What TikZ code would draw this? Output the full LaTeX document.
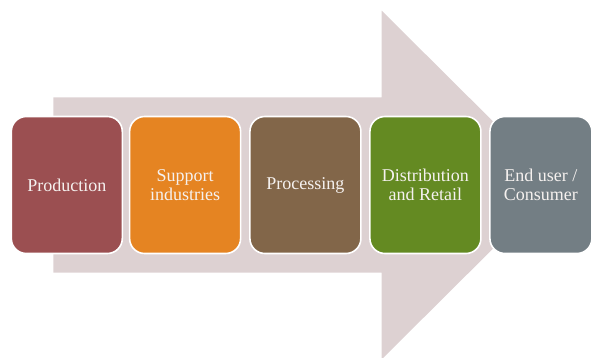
\documentclass[tikz,border=0pt]{standalone}
\usepackage{fontspec}
\setmainfont{Liberation Serif}
\newfontfamily\boxfont{Liberation Serif}
\definecolor{arrowc}{HTML}{DDD1D2}
\definecolor{cprod}{HTML}{9B4F51}
\definecolor{csupp}{HTML}{E58422}
\definecolor{cproc}{HTML}{826649}
\definecolor{cdist}{HTML}{648A22}
\definecolor{cend}{HTML}{737E84}
\definecolor{textc}{HTML}{F5F1EF}
\begin{document}
\begin{tikzpicture}[x=1pt,y=-1pt,
  stagebox/.style={draw=white, line width=1.6pt, rounded corners=15pt,
    minimum height=137pt, minimum width=111pt, inner sep=0pt,
    text=textc, align=center, anchor=west,
    font=\boxfont\fontsize{18}{19.5}\selectfont}]
\useasboundingbox (0,0) rectangle (592,357);
\clip (0,0) rectangle (592,357);
\fill[arrowc] (53.3,97.3) -- (381.7,97.3) -- (381.7,10.7) -- (557,185)
  -- (381.7,359.3) -- (381.7,272.7) -- (53.3,272.7) -- cycle;
\node[stagebox, fill=cprod] (b1) at (10.5,185) {Production};
\node[stagebox, fill=csupp] (b2) at (128.8,185) {Support\\industries};
\node[stagebox, fill=cproc] (b3) at (249.1,185) {Processing};
\node[stagebox, fill=cdist] (b4) at (369.1,185) {Distribution\\and Retail};
\node[stagebox, fill=cend, minimum width=102pt] (b5) at (489.1,185) {End user /\\Consumer};
\end{tikzpicture}
\end{document}
